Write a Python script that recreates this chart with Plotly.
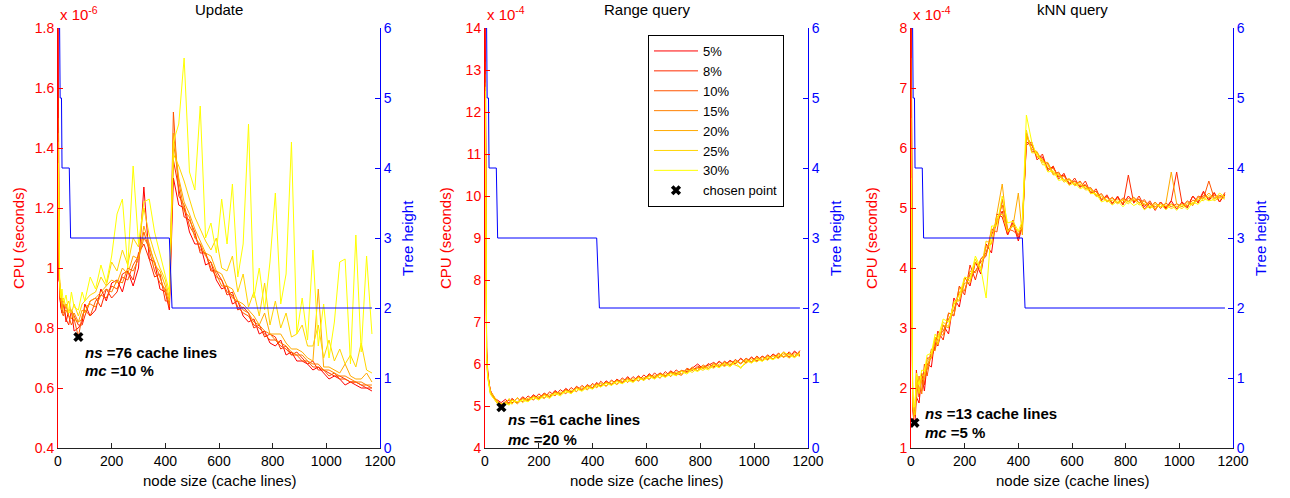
import plotly.graph_objects as go

# ---------------- data ----------------
node_size = [1, 3, 6, 10, 15, 20, 30, 40, 50, 60,
             76, 90, 100, 120, 140, 160, 180, 200, 220, 240,
             260, 280, 300, 320, 340, 360, 380, 400, 415, 430,
             450, 470, 490, 510, 530, 550, 570, 590, 610, 630,
             650, 670, 690, 710, 730, 750, 770, 790, 810, 830,
             850, 870, 890, 910, 930, 950, 970, 990, 1010, 1030,
             1050, 1070, 1090, 1110, 1130, 1150, 1170]

series_names = ["5%", "8%", "10%", "15%", "20%", "25%", "30%"]

# Update CPU (x 1e-6 s)
upd_5 = [1.90, 0.96, 0.95, 0.87, 0.85, 0.89, 0.82, 0.86, 0.86, 0.79,
         0.80, 0.82, 0.88, 0.84, 0.86, 0.93, 0.89, 0.95, 0.96, 0.92,
         0.99, 0.94, 1.00, 1.27, 1.03, 1.02, 0.93, 0.92, 0.86, 1.30,
         1.21, 1.20, 1.12, 1.08, 1.08, 1.01, 1.02, 0.96, 0.93, 0.94,
         0.88, 0.89, 0.84, 0.82, 0.83, 0.78, 0.79, 0.75, 0.74, 0.76,
         0.71, 0.72, 0.69, 0.69, 0.68, 0.66, 0.67, 0.65, 0.63, 0.64,
         0.63, 0.61, 0.62, 0.61, 0.60, 0.60, 0.59]
upd_8 = [1.60, 1.01, 0.90, 0.88, 0.90, 0.88, 0.83, 0.81, 0.86, 0.84,
         0.81, 0.81, 0.84, 0.89, 0.90, 0.87, 0.93, 0.90, 0.92, 0.98,
         0.99, 0.96, 1.05, 1.08, 1.03, 0.97, 0.98, 0.89, 0.89, 1.36,
         1.26, 1.17, 1.16, 1.12, 1.05, 1.05, 0.99, 0.99, 0.96, 0.91,
         0.92, 0.86, 0.87, 0.85, 0.80, 0.81, 0.77, 0.78, 0.77, 0.73,
         0.74, 0.71, 0.72, 0.70, 0.68, 0.69, 0.66, 0.66, 0.65, 0.64,
         0.64, 0.63, 0.62, 0.62, 0.61, 0.60, 0.60]
upd_10 = [1.50, 0.98, 0.96, 0.91, 0.85, 0.84, 0.88, 0.84, 0.81, 0.83,
          0.77, 0.84, 0.86, 0.84, 0.89, 0.91, 0.90, 0.94, 0.93, 0.97,
          0.96, 1.01, 1.04, 1.12, 1.06, 0.99, 0.95, 0.93, 0.87, 1.52,
          1.24, 1.21, 1.14, 1.11, 1.06, 1.05, 1.00, 0.97, 0.96, 0.92,
          0.91, 0.87, 0.85, 0.84, 0.81, 0.80, 0.78, 0.76, 0.76, 0.74,
          0.73, 0.71, 0.71, 0.69, 0.69, 0.67, 0.67, 0.66, 0.64, 0.65,
          0.63, 0.63, 0.62, 0.62, 0.61, 0.61, 0.60]
upd_15 = [1.45, 1.03, 0.91, 0.89, 0.88, 0.85, 0.86, 0.84, 0.83, 0.85,
          0.82, 0.83, 0.87, 0.88, 0.87, 0.91, 0.93, 0.92, 0.96, 0.95,
          1.00, 0.99, 1.03, 1.10, 1.07, 1.02, 0.97, 0.92, 0.88, 1.42,
          1.29, 1.19, 1.17, 1.10, 1.08, 1.04, 1.02, 0.98, 0.94, 0.94,
          0.90, 0.89, 0.86, 0.85, 0.82, 0.81, 0.79, 0.78, 0.76, 0.75,
          0.74, 0.72, 0.71, 0.71, 0.69, 0.68, 0.68, 0.66, 0.66, 0.65,
          0.64, 0.64, 0.63, 0.62, 0.62, 0.61, 0.61]
upd_20 = [1.42, 1.05, 0.93, 0.92, 0.86, 0.88, 0.87, 0.85, 0.86, 0.83,
          0.82, 0.86, 0.85, 0.89, 0.90, 0.92, 0.94, 0.96, 0.95, 1.00,
          0.98, 1.04, 1.03, 1.14, 1.08, 1.01, 0.99, 0.94, 0.89, 1.45,
          1.30, 1.22, 1.18, 1.13, 1.09, 1.05, 1.04, 0.99, 0.98, 0.94,
          0.93, 0.89, 0.88, 0.86, 0.84, 0.81, 0.85, 0.78, 0.78, 0.78,
          0.75, 0.73, 0.73, 0.72, 0.70, 0.69, 0.93, 0.67, 0.67, 0.66,
          0.65, 0.68, 0.64, 0.63, 0.63, 0.65, 0.62]
upd_25 = [1.40, 1.07, 0.94, 0.93, 0.89, 0.90, 0.87, 0.89, 0.85, 0.88,
          0.84, 0.88, 0.89, 0.91, 0.92, 0.97, 0.94, 1.02, 0.99, 1.06,
          1.01, 1.10, 1.07, 1.20, 1.11, 1.05, 1.00, 0.96, 0.90, 1.38,
          1.34, 1.29, 1.23, 1.17, 1.13, 1.09, 1.06, 1.10, 1.00, 0.99,
          1.04, 0.92, 0.98, 0.87, 0.92, 0.84, 0.95, 0.81, 0.89, 0.80,
          0.85, 0.77, 0.78, 0.81, 0.74, 0.74, 0.81, 0.70, 0.76, 0.69,
          0.73, 0.68, 0.71, 0.67, 0.75, 0.66, 0.65]
upd_30 = [1.35, 1.09, 0.97, 0.90, 0.93, 0.88, 0.91, 0.85, 0.92, 0.87,
          0.86, 0.92, 0.89, 0.97, 0.93, 1.01, 0.95, 1.04, 1.18, 1.23,
          1.00, 1.34, 1.08, 1.22, 1.23, 1.12, 1.05, 0.98, 0.92, 1.42,
          1.48, 1.70, 1.32, 1.26, 1.54, 1.10, 1.15, 1.05, 1.23, 1.08,
          1.28, 0.97, 1.08, 1.48, 0.90, 1.00, 0.86, 1.02, 1.25, 0.88,
          0.98, 1.42, 0.78, 0.90, 0.76, 1.06, 0.74, 0.88, 0.70, 0.82,
          1.02, 1.03, 0.68, 1.11, 0.72, 1.04, 0.78]

# Range query CPU (x 1e-4 s)
rng_5 = [14.5, 8.3, 6.4, 5.85, 5.52, 5.38, 5.22, 5.17, 5.12, 5.08,
         5.16, 5.06, 5.18, 5.08, 5.22, 5.12, 5.27, 5.17, 5.31, 5.21,
         5.37, 5.27, 5.42, 5.32, 5.47, 5.37, 5.51, 5.42, 5.56, 5.46,
         5.60, 5.50, 5.64, 5.55, 5.70, 5.57, 5.72, 5.61, 5.77, 5.66,
         5.79, 5.69, 5.84, 5.72, 5.84, 5.82, 5.90, 6.00, 5.89, 6.01,
         5.92, 6.07, 5.95, 6.09, 6.00, 6.14, 6.02, 6.17, 6.06, 6.19,
         6.10, 6.24, 6.14, 6.29, 6.15, 6.31, 6.19]
rng_8 = [13.2, 8.1, 6.3, 5.80, 5.50, 5.33, 5.27, 5.13, 5.08, 5.04,
         5.06, 5.15, 5.07, 5.19, 5.10, 5.24, 5.14, 5.29, 5.18, 5.34,
         5.24, 5.39, 5.29, 5.44, 5.34, 5.49, 5.39, 5.54, 5.44, 5.59,
         5.47, 5.62, 5.51, 5.67, 5.56, 5.70, 5.59, 5.74, 5.63, 5.79,
         5.66, 5.82, 5.70, 5.86, 5.76, 5.87, 5.86, 5.91, 5.92, 5.97,
         6.04, 5.93, 6.07, 5.96, 6.11, 6.00, 6.14, 6.04, 6.19, 6.08,
         6.22, 6.11, 6.26, 6.16, 6.29, 6.16, 6.32]
rng_10 = [12.9, 7.9, 6.2, 5.75, 5.48, 5.36, 5.24, 5.15, 5.10, 5.02,
          5.11, 5.07, 5.17, 5.07, 5.20, 5.13, 5.25, 5.19, 5.28, 5.23,
          5.35, 5.28, 5.40, 5.33, 5.45, 5.40, 5.48, 5.44, 5.55, 5.48,
          5.58, 5.52, 5.62, 5.57, 5.67, 5.60, 5.70, 5.64, 5.74, 5.69,
          5.78, 5.72, 5.82, 5.77, 5.73, 5.90, 5.84, 5.95, 5.90, 6.00,
          5.94, 6.05, 5.98, 6.07, 6.02, 6.12, 6.05, 6.15, 6.08, 6.18,
          6.12, 6.22, 6.17, 6.27, 6.17, 6.28, 6.22]
rng_15 = [12.7, 7.8, 6.25, 5.78, 5.47, 5.32, 5.23, 5.12, 5.07, 5.00,
          5.09, 5.05, 5.14, 5.09, 5.18, 5.15, 5.23, 5.17, 5.30, 5.23,
          5.33, 5.30, 5.38, 5.33, 5.45, 5.38, 5.50, 5.42, 5.53, 5.49,
          5.56, 5.52, 5.62, 5.55, 5.67, 5.58, 5.70, 5.62, 5.75, 5.68,
          5.76, 5.72, 5.80, 5.77, 5.85, 5.80, 5.93, 5.84, 5.98, 5.90,
          6.02, 5.95, 6.05, 5.97, 6.10, 6.02, 6.13, 6.05, 6.17, 6.08,
          6.20, 6.12, 6.25, 6.17, 6.26, 6.18, 6.30]
rng_20 = [12.6, 7.7, 6.15, 5.70, 5.45, 5.30, 5.20, 5.10, 5.02, 4.96,
          5.08, 5.04, 5.15, 5.05, 5.17, 5.12, 5.22, 5.16, 5.27, 5.21,
          5.32, 5.27, 5.37, 5.31, 5.42, 5.37, 5.47, 5.41, 5.52, 5.46,
          5.56, 5.50, 5.60, 5.54, 5.64, 5.58, 5.68, 5.62, 5.72, 5.66,
          5.76, 5.70, 5.79, 5.74, 5.84, 5.79, 5.89, 5.84, 5.94, 5.89,
          5.99, 5.93, 6.03, 5.96, 6.07, 6.01, 6.10, 6.04, 6.14, 6.08,
          6.18, 6.12, 6.22, 6.16, 6.23, 6.18, 6.28]
rng_25 = [12.6, 7.6, 6.2, 5.72, 5.50, 5.34, 5.26, 5.18, 5.08, 5.06,
          5.06, 5.18, 5.04, 5.20, 5.08, 5.19, 5.16, 5.23, 5.18, 5.28,
          5.26, 5.33, 5.31, 5.38, 5.35, 5.46, 5.38, 5.51, 5.43, 5.55,
          5.47, 5.59, 5.51, 5.63, 5.57, 5.65, 5.61, 5.68, 5.65, 5.73,
          5.67, 5.77, 5.71, 5.81, 5.75, 5.86, 5.80, 5.90, 5.85, 5.94,
          5.90, 6.00, 5.94, 6.03, 5.98, 5.92, 6.02, 6.11, 6.05, 6.15,
          6.09, 6.19, 6.13, 6.23, 6.14, 6.24, 6.18]
rng_30 = [12.5, 7.5, 6.1, 5.68, 5.43, 5.28, 5.19, 5.11, 5.05, 5.00,
          5.06, 5.02, 5.13, 5.10, 5.14, 5.10, 5.21, 5.14, 5.25, 5.18,
          5.30, 5.24, 5.36, 5.29, 5.41, 5.35, 5.45, 5.40, 5.50, 5.45,
          5.54, 5.49, 5.58, 5.53, 5.62, 5.56, 5.66, 5.61, 5.70, 5.64,
          5.74, 5.68, 5.77, 5.72, 5.82, 5.76, 5.87, 5.82, 5.91, 5.86,
          5.97, 5.91, 6.01, 5.93, 6.05, 5.89, 6.08, 6.02, 6.12, 6.06,
          6.16, 6.10, 6.20, 6.28, 6.21, 6.15, 6.25]

# kNN query CPU (x 1e-4 s)
knn_5 = [8.5, 2.30, 1.65, 1.48, 1.42, 1.85, 1.75, 2.20, 1.95, 2.40,
         2.35, 2.85, 2.70, 3.05, 2.90, 3.50, 3.35, 3.85, 3.70, 4.10,
         3.90, 4.40, 4.25, 4.90, 4.85, 4.55, 4.75, 4.45, 4.70, 6.10,
         6.05, 5.85, 5.85, 5.65, 5.68, 5.52, 5.55, 5.40, 5.45, 5.36,
         5.38, 5.25, 5.28, 5.14, 5.20, 5.08, 5.18, 5.06, 5.20, 5.10,
         5.15, 4.98, 5.08, 4.96, 5.10, 5.00, 5.12, 4.98, 5.10, 5.02,
         5.20, 5.10, 5.28, 5.12, 5.25, 5.10, 5.22]
knn_8 = [8.0, 2.60, 1.80, 1.55, 1.65, 2.30, 1.85, 2.25, 2.05, 2.50,
         2.50, 2.70, 2.95, 2.80, 3.25, 3.20, 3.70, 3.55, 4.05, 3.80,
         4.15, 4.25, 4.55, 4.75, 4.95, 4.55, 4.80, 4.50, 4.75, 6.05,
         6.10, 5.80, 5.90, 5.62, 5.70, 5.48, 5.58, 5.38, 5.50, 5.34,
         5.45, 5.24, 5.32, 5.12, 5.22, 5.06, 5.20, 5.05, 5.55, 5.08,
         5.20, 5.02, 5.12, 4.98, 5.10, 4.98, 5.12, 5.60, 5.08, 5.00,
         5.20, 5.08, 5.26, 5.14, 5.26, 5.10, 5.26]
knn_10 = [7.5, 2.55, 1.85, 1.52, 1.55, 2.10, 2.00, 1.95, 2.40, 2.20,
          2.60, 2.65, 2.85, 2.95, 3.15, 3.30, 3.60, 3.62, 3.90, 3.95,
          4.10, 4.20, 4.65, 4.60, 5.15, 4.65, 4.62, 4.55, 4.65, 6.25,
          5.95, 5.92, 5.78, 5.74, 5.56, 5.60, 5.46, 5.48, 5.38, 5.45,
          5.32, 5.34, 5.20, 5.24, 5.10, 5.18, 5.08, 5.17, 5.11, 5.18,
          5.08, 5.14, 5.00, 5.10, 4.99, 5.08, 5.02, 5.07, 5.02, 5.12,
          5.04, 5.20, 5.16, 5.45, 5.16, 5.21, 5.18]
knn_15 = [7.0, 2.45, 1.70, 1.58, 1.62, 1.80, 2.20, 1.90, 2.25, 2.30,
          2.65, 2.62, 2.90, 2.88, 3.25, 3.22, 3.68, 3.62, 3.95, 3.92,
          4.15, 4.22, 4.60, 4.78, 5.05, 4.62, 4.72, 4.55, 4.75, 6.20,
          6.05, 5.86, 5.82, 5.66, 5.66, 5.52, 5.53, 5.42, 5.45, 5.37,
          5.39, 5.27, 5.28, 5.14, 5.18, 5.09, 5.15, 5.08, 5.16, 5.12,
          5.15, 5.05, 5.09, 5.02, 5.08, 5.02, 5.07, 5.02, 5.07, 5.03,
          5.13, 5.11, 5.21, 5.17, 5.21, 5.17, 5.23]
knn_20 = [6.5, 2.50, 1.75, 1.50, 1.58, 2.10, 1.90, 2.15, 2.15, 2.40,
          2.50, 2.80, 2.75, 3.05, 3.00, 3.45, 3.45, 3.75, 3.75, 4.10,
          4.00, 4.35, 4.40, 4.90, 5.40, 4.60, 4.70, 5.25, 4.55, 6.20,
          5.98, 5.94, 5.76, 5.76, 5.58, 5.58, 5.46, 5.49, 5.40, 5.43,
          5.33, 5.33, 5.22, 5.22, 5.12, 5.16, 5.09, 5.15, 5.10, 5.18,
          5.09, 5.11, 5.02, 5.09, 5.02, 5.08, 5.60, 5.07, 5.02, 5.10,
          5.07, 5.18, 5.15, 5.25, 5.15, 5.19, 5.19]
knn_25 = [6.0, 2.60, 1.90, 1.62, 1.55, 2.20, 1.92, 2.20, 2.22, 2.45,
          2.52, 2.85, 2.72, 3.10, 3.02, 3.40, 3.48, 3.82, 3.78, 4.15,
          3.95, 4.45, 4.40, 4.85, 4.90, 4.60, 4.72, 4.60, 4.68, 6.30,
          5.92, 5.92, 5.72, 5.72, 5.55, 5.56, 5.43, 5.47, 5.37, 5.40,
          5.30, 5.31, 5.19, 5.19, 5.10, 5.13, 5.07, 5.13, 5.07, 5.15,
          5.05, 5.08, 4.99, 5.06, 5.02, 5.05, 4.99, 5.03, 4.99, 5.07,
          5.05, 5.15, 5.12, 5.21, 5.12, 5.17, 5.15]
knn_30 = [5.5, 2.70, 1.95, 1.68, 1.70, 2.25, 2.05, 2.30, 2.28, 2.55,
          2.58, 2.90, 2.82, 3.15, 3.10, 3.40, 3.55, 3.85, 3.82, 4.20,
          4.00, 3.50, 4.70, 4.70, 5.20, 4.75, 4.78, 4.62, 4.78, 6.55,
          6.10, 5.86, 5.80, 5.60, 5.62, 5.46, 5.48, 5.38, 5.42, 5.32,
          5.36, 5.24, 5.24, 5.10, 5.14, 5.05, 5.12, 5.02, 5.12, 5.04,
          5.09, 4.97, 5.04, 4.98, 5.06, 4.97, 5.06, 4.96, 5.06, 4.97,
          5.10, 5.06, 5.16, 5.12, 5.14, 5.25, 5.18]

# Tree height (same for all three experiments)
tree_x = [1, 6, 8, 13, 15, 42, 47, 415, 425, 1170]
tree_h = [6, 6, 5, 5, 4, 4, 3, 3, 2, 2]

# chosen points
chosen = [(76, 0.77), (61, 4.97), (13, 1.42)]
chosen_ns = [76, 61, 13]
chosen_mc = [10, 20, 5]

titles = ["Update", "Range query", "kNN query"]
exponents = ["-6", "-4", "-4"]
cpu_ranges = [[0.4, 1.8], [4, 14], [1, 8]]
cpu_dticks = [0.2, 1, 1]

panels = [
    [upd_5, upd_8, upd_10, upd_15, upd_20, upd_25, upd_30],
    [rng_5, rng_8, rng_10, rng_15, rng_20, rng_25, rng_30],
    [knn_5, knn_8, knn_10, knn_15, knn_20, knn_25, knn_30],
]

colors = ["rgb(255,0,0)", "rgb(255,43,0)", "rgb(255,85,0)", "rgb(255,128,0)",
          "rgb(255,170,0)", "rgb(255,213,0)", "rgb(255,255,0)"]

# ---------------- layout geometry ----------------
W, H = 1290, 498
ML, MR, MT, MB = 58, 57, 28, 50
PW = W - ML - MR
PH = H - MT - MB
panel_px = [(58, 380), (485, 808), (911, 1233)]


def px2paper_x(px):
    return (px - ML) / PW


def py2paper_y(py):
    return (H - MB - py) / PH


domains = [[px2paper_x(a), px2paper_x(b)] for a, b in panel_px]

FONT = "Liberation Sans, Arial, Helvetica, sans-serif"
fig = go.Figure()

annotations = []
for i in range(3):
    xa = "x" if i == 0 else f"x{i + 1}"
    yl = "y" if i == 0 else f"y{2 * i + 1}"
    yr = f"y{2 * i + 2}"
    for k, vals in enumerate(panels[i]):
        fig.add_trace(go.Scatter(
            x=node_size, y=vals, mode="lines", name=series_names[k],
            line=dict(color=colors[k], width=1),
            xaxis=xa, yaxis=yl, showlegend=(i == 1), legendrank=k + 1))
    fig.add_trace(go.Scatter(
        x=[chosen[i][0]], y=[chosen[i][1]], mode="markers", name="chosen point",
        marker=dict(symbol="x", size=9, color="black"),
        xaxis=xa, yaxis=yl, showlegend=(i == 1), legendrank=20))
    fig.add_trace(go.Scatter(
        x=tree_x, y=tree_h, mode="lines", name="Tree height",
        line=dict(color="rgb(0,0,255)", width=1),
        xaxis=xa, yaxis=yr, showlegend=False))

    xkey = "xaxis" if i == 0 else f"xaxis{i + 1}"
    ylkey = "yaxis" if i == 0 else f"yaxis{2 * i + 1}"
    yrkey = f"yaxis{2 * i + 2}"
    fig.layout[xkey] = dict(
        domain=domains[i], range=[0, 1200], tick0=0, dtick=200,
        ticks="inside", ticklen=5, tickcolor="#222", showline=True,
        linecolor="#222", linewidth=1, showgrid=False, zeroline=False,
        anchor=yl, tickfont=dict(size=14, color="black", family=FONT))
    fig.layout[ylkey] = dict(
        domain=[0, 1], range=cpu_ranges[i], dtick=cpu_dticks[i],
        ticks="inside", ticklen=5, tickcolor="red", showline=True,
        linecolor="red", linewidth=1, showgrid=False, zeroline=False,
        anchor=xa, tickfont=dict(size=14, color="red", family=FONT))
    fig.layout[yrkey] = dict(
        domain=[0, 1], range=[0, 6], dtick=1, overlaying=yl, side="right",
        ticks="inside", ticklen=5, tickcolor="blue", showline=True,
        linecolor="blue", linewidth=1, showgrid=False, zeroline=False,
        anchor=xa, tickfont=dict(size=14, color="blue", family=FONT))

    cx = (domains[i][0] + domains[i][1]) / 2
    annotations.append(dict(text=titles[i], xref="paper", yref="paper",
                            x=cx, y=py2paper_y(10), xanchor="center", yanchor="middle",
                            showarrow=False, font=dict(size=15, color="black", family=FONT)))
    annotations.append(dict(text=f"x 10<sup>{exponents[i]}</sup>", xref="paper", yref="paper",
                            x=domains[i][0], y=py2paper_y(14), xanchor="left", yanchor="middle",
                            showarrow=False, font=dict(size=15, color="red", family=FONT)))
    annotations.append(dict(text="CPU (seconds)", xref="paper", yref="paper",
                            x=px2paper_x(panel_px[i][0] - 40), y=0.5, textangle=-90,
                            xanchor="center", yanchor="middle", showarrow=False,
                            font=dict(size=15, color="red", family=FONT)))
    annotations.append(dict(text="Tree height", xref="paper", yref="paper",
                            x=px2paper_x(panel_px[i][1] + 27), y=0.5, textangle=-90,
                            xanchor="center", yanchor="middle", showarrow=False,
                            font=dict(size=15, color="blue", family=FONT)))
    annotations.append(dict(text="node size (cache lines)", xref="paper", yref="paper",
                            x=cx, y=py2paper_y(480), xanchor="center", yanchor="middle",
                            showarrow=False, font=dict(size=15, color="black", family=FONT)))

label_pos = [((94, 0.718), (94, 0.657)), ((78, 4.667), (78, 4.207)), ((46, 1.567), (46, 1.262))]
for i in range(3):
    xa = "x" if i == 0 else f"x{i + 1}"
    yl = "y" if i == 0 else f"y{2 * i + 1}"
    (x1, y1), (x2, y2) = label_pos[i]
    annotations.append(dict(text=f"<b><i>ns</i> ={chosen_ns[i]} cache lines</b>",
                            xref=xa, yref=yl, x=x1, y=y1, xanchor="left", yanchor="middle",
                            showarrow=False, font=dict(size=15, color="black", family=FONT)))
    annotations.append(dict(text=f"<b><i>mc</i> ={chosen_mc[i]} %</b>",
                            xref=xa, yref=yl, x=x2, y=y2, xanchor="left", yanchor="middle",
                            showarrow=False, font=dict(size=15, color="black", family=FONT)))

fig.update_layout(
    width=W, height=H,
    margin=dict(l=ML, r=MR, t=MT, b=MB, pad=0),
    plot_bgcolor="white", paper_bgcolor="white",
    font=dict(family=FONT, size=14, color="black"),
    annotations=annotations,
    legend=dict(x=px2paper_x(648), y=py2paper_y(35), xanchor="left", yanchor="top",
                bordercolor="black", borderwidth=1, bgcolor="white",
                font=dict(size=13, color="black", family=FONT),
                traceorder="normal", tracegroupgap=0, itemwidth=44),
)

fig.write_html("out.html")
